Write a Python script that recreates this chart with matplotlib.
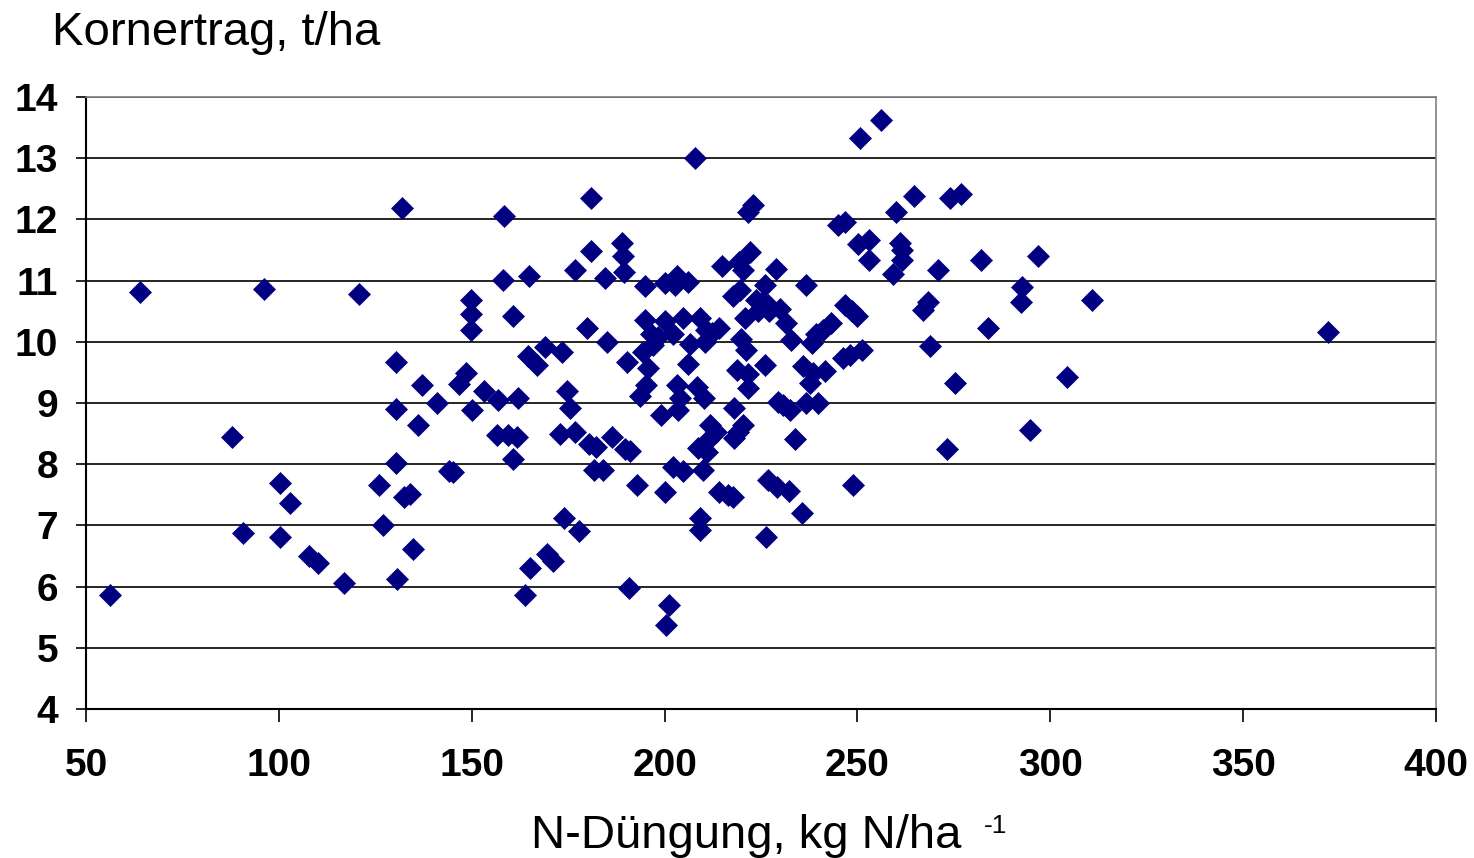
import matplotlib
matplotlib.use("Agg")
import matplotlib.pyplot as plt

# N-Düngung (kg N/ha) and Kornertrag (t/ha)
n_duengung = [
    56.2, 64.0, 87.9, 90.7, 96.1, 100.3, 100.3, 102.9, 107.8, 110.2,
    116.9, 120.8, 126.0, 127.0, 130.4, 130.4, 130.4, 130.6, 131.9, 132.4,
    134.0, 134.8, 136.1, 137.1, 141.0, 144.1, 145.2, 146.7, 148.5, 149.8,
    149.8, 149.8, 150.1, 153.2, 156.8, 156.6, 158.4, 158.1, 159.4, 160.7,
    160.7, 162.0, 161.7, 164.9, 164.6, 163.8, 165.1, 166.9, 169.0, 169.5,
    171.1, 173.4, 172.9, 173.9, 174.7, 175.5, 176.8, 176.8, 177.8, 179.9,
    180.4, 180.9, 180.9, 181.7, 182.2, 184.0, 184.6, 185.1, 186.4, 189.0,
    189.2, 189.5, 190.3, 189.7, 191.0, 190.8, 192.9, 193.6, 194.9, 194.4,
    194.9, 195.7, 195.2, 196.5, 197.0, 198.3, 199.1, 200.1, 200.1, 200.1,
    200.4, 201.2, 202.2, 202.7, 202.2, 203.2, 203.2, 203.5, 204.0, 204.8,
    204.8, 206.1, 206.1, 206.6, 207.9, 208.4, 208.7, 209.2, 209.2, 209.2,
    210.0, 210.2, 210.5, 210.7, 211.3, 211.8, 212.3, 213.3, 214.1, 214.1,
    214.9, 216.4, 217.7, 218.0, 217.7, 218.0, 218.8, 219.0, 219.3, 219.6,
    219.8, 220.3, 220.3, 220.9, 221.1, 221.6, 221.6, 221.6, 222.2, 222.9,
    223.7, 224.2, 225.3, 226.0, 226.3, 226.8, 226.8, 227.1, 228.9, 229.2,
    229.4, 229.9, 230.7, 231.5, 232.3, 232.5, 232.8, 233.8, 235.6, 235.9,
    236.7, 236.7, 237.7, 238.2, 239.3, 239.8, 241.1, 241.6, 243.2, 245.0,
    246.8, 246.3, 246.8, 248.1, 248.6, 248.9, 249.9, 250.2, 250.7, 251.2,
    253.0, 253.0, 256.1, 259.2, 260.0, 261.0, 261.6, 261.6, 264.7, 267.0,
    268.3, 268.8, 270.9, 273.2, 274.0, 275.3, 276.9, 282.0, 283.9, 292.7,
    292.4, 294.7, 296.8, 304.3, 310.8, 372.0, 211.0, 226.0, 238.5,
]
kornertrag = [
    5.86, 10.81, 8.44, 6.88, 10.86, 7.69, 6.81, 7.37, 6.50, 6.39,
    6.06, 10.78, 7.66, 7.01, 9.67, 8.02, 8.90, 6.12, 12.19, 7.46,
    7.51, 6.61, 8.64, 9.29, 9.00, 7.89, 7.87, 9.31, 9.49, 10.68,
    10.45, 10.19, 8.89, 9.20, 9.05, 8.48, 12.06, 11.01, 8.48, 10.42,
    8.08, 9.08, 8.44, 11.08, 9.77, 5.86, 6.30, 9.62, 9.92, 6.53,
    6.42, 9.83, 8.49, 7.12, 9.20, 8.92, 11.17, 8.53, 6.91, 10.23,
    8.33, 12.35, 11.48, 7.91, 8.28, 7.91, 11.04, 10.00, 8.44, 11.61,
    11.40, 11.14, 9.67, 8.25, 8.22, 5.98, 7.66, 9.11, 10.91, 9.83,
    10.36, 9.57, 9.29, 10.13, 9.95, 10.08, 8.80, 10.34, 10.96, 7.55,
    5.37, 5.70, 10.13, 10.93, 7.95, 11.08, 9.29, 8.89, 9.08, 10.39,
    7.89, 9.64, 10.98, 9.96, 13.00, 9.26, 8.26, 10.39, 7.12, 6.92,
    7.91, 9.08, 10.00, 10.19, 8.40, 8.64, 10.14, 8.53, 10.23, 7.55,
    11.24, 7.50, 7.46, 8.43, 10.75, 8.92, 9.54, 8.53, 11.30, 10.85,
    10.05, 11.17, 8.64, 10.39, 9.87, 9.47, 9.25, 12.12, 11.47, 12.24,
    10.68, 10.50, 10.65, 9.62, 6.81, 7.74, 10.60, 10.50, 11.19, 7.63,
    9.02, 10.54, 8.97, 10.31, 7.56, 8.89, 10.03, 8.41, 7.20, 9.60,
    10.93, 9.00, 9.33, 9.98, 10.13, 9.00, 10.19, 9.52, 10.31, 11.91,
    11.96, 9.74, 10.60, 9.78, 10.50, 7.66, 10.42, 11.60, 13.33, 9.87,
    11.66, 11.34, 13.62, 11.11, 12.12, 11.61, 11.50, 11.34, 12.38, 10.52,
    10.65, 9.93, 11.17, 8.25, 12.35, 9.33, 12.42, 11.34, 10.23, 10.90,
    10.65, 8.56, 11.40, 9.42, 10.68, 10.16, 8.20, 10.93, 9.49,
]

x_ticks = [50, 100, 150, 200, 250, 300, 350, 400]
y_ticks = [4, 5, 6, 7, 8, 9, 10, 11, 12, 13, 14]
title_text = "Kornertrag, t/ha"
xlabel_text = "N-Düngung, kg N/ha"
xlabel_sup = "-1"

plt.rcParams['font.family'] = ['Liberation Sans', 'DejaVu Sans']

fig = plt.figure(figsize=(14.74, 8.58), dpi=100)
ax = fig.add_axes([86/1474, 1 - 709/858, 1350/1474, 612/858])

ax.set_xlim(50, 400)
ax.set_ylim(4, 14)
ax.set_yticks(y_ticks)
ax.set_xticks(x_ticks)
ax.grid(axis='y', color='black', linewidth=1.2, zorder=1)
ax.set_axisbelow(True)

ax.plot(n_duengung, kornertrag, linestyle='none', marker='D', markersize=11,
        markerfacecolor='#000080', markeredgecolor='#000080',
        markeredgewidth=0.5, zorder=3, clip_on=False)

for s in ['top', 'right']:
    ax.spines[s].set_color('#808080')
    ax.spines[s].set_linewidth(1.2)
for s in ['left', 'bottom']:
    ax.spines[s].set_color('black')
    ax.spines[s].set_linewidth(1.5)

ax.tick_params(axis='y', direction='out', length=7, width=1.2, pad=13,
               labelsize=28)
ax.tick_params(axis='x', direction='out', length=9, width=1.2, pad=19,
               labelsize=28)
for lab in ax.get_xticklabels() + ax.get_yticklabels():
    lab.set_fontweight('bold')

fig.text(52/1474, 1 - 45/858, title_text, fontsize=34, ha='left', va='baseline')
fig.text(531/1474, 1 - 848/858, xlabel_text, fontsize=34, ha='left', va='baseline')
fig.text(984/1474, 1 - 833/858, xlabel_sup, fontsize=19, ha='left', va='baseline')

fig.savefig("out.png", dpi=100)
